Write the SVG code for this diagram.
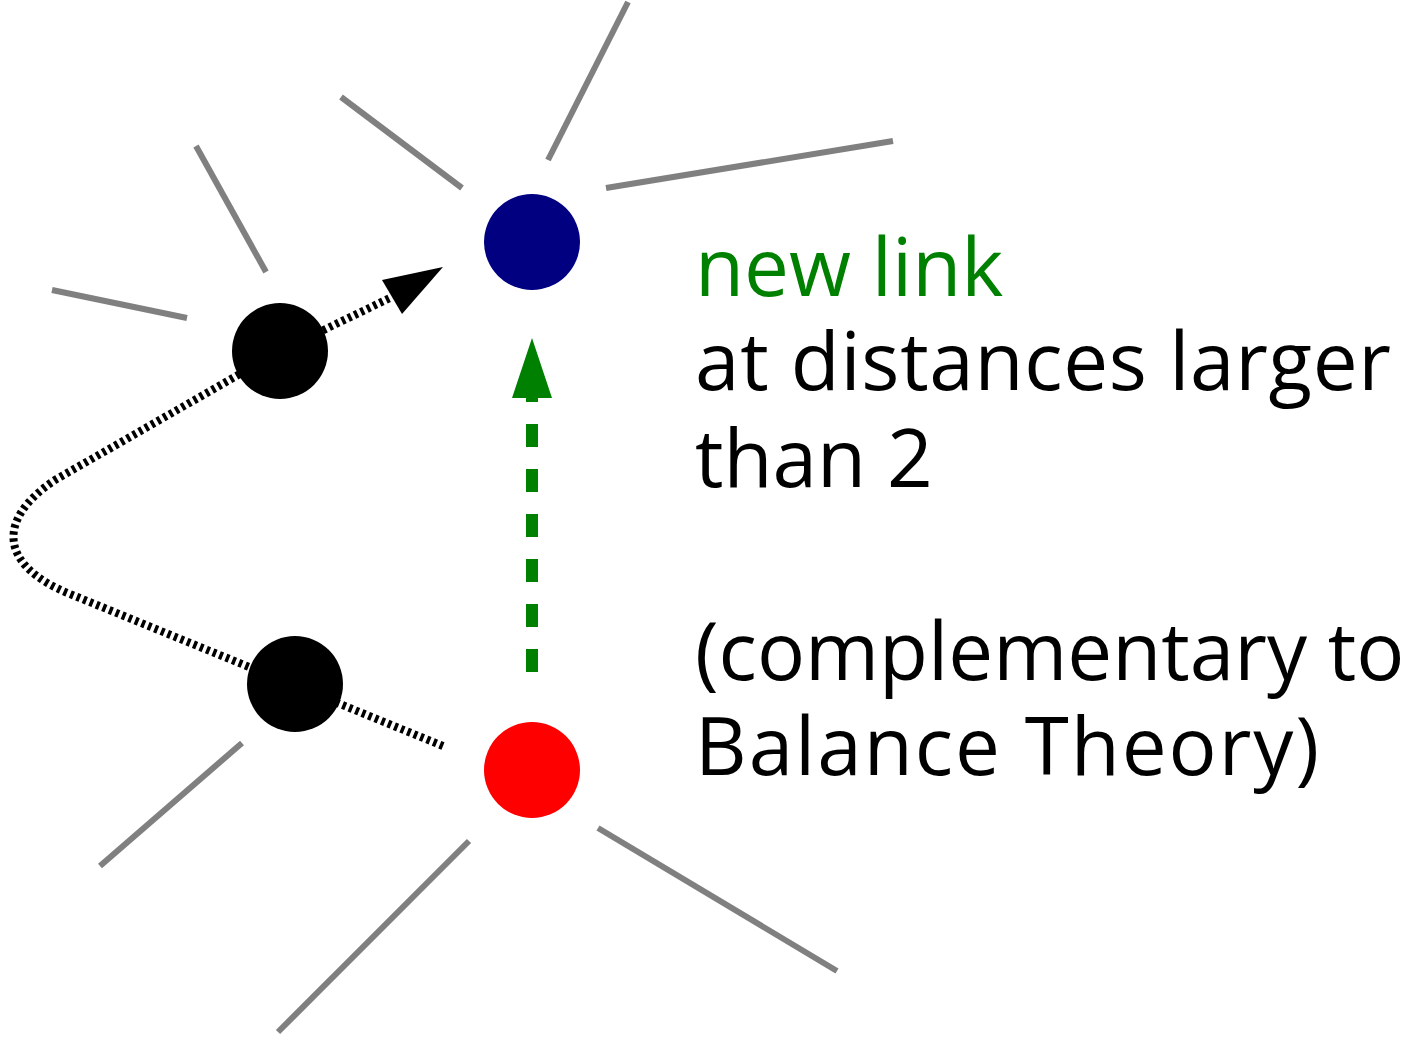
<svg xmlns="http://www.w3.org/2000/svg" width="1403" height="1039" viewBox="0 0 1403 1039">
<style>
.g{stroke:#808080;stroke-width:6;fill:none}
.t{font-family:"Open Sans","DejaVu Sans",sans-serif;font-size:80px;fill:#000}
</style>
<rect width="1403" height="1039" fill="#fff"/>
<g id="background-edges">
<line class="g" x1="548" y1="160" x2="628" y2="2"/>
<line class="g" x1="606" y1="188" x2="893" y2="141"/>
<line class="g" x1="341" y1="97" x2="462" y2="188"/>
<line class="g" x1="196" y1="146" x2="266" y2="272"/>
<line class="g" x1="52" y1="290" x2="187" y2="318"/>
<line class="g" x1="242" y1="743" x2="100" y2="866"/>
<line class="g" x1="469" y1="841" x2="278" y2="1032"/>
<line class="g" x1="598" y1="828" x2="837" y2="971"/>
</g>
<g id="connectors">
<path d="M443,746 L70,594 C0,566 -5,520 55,480 L280,351 L392,297" fill="none" stroke="#000" stroke-width="8" stroke-dasharray="3.5 3.5"/>
<polygon points="443,267 382,280 402,314" fill="#000"/>
<line x1="532" y1="672" x2="532" y2="398" stroke="#008000" stroke-width="12" stroke-dasharray="23 22"/>
<polygon points="532,338 512,398 552,398" fill="#008000"/>
</g>
<g id="node-blue"><circle cx="532" cy="242" r="48" fill="#000080"/></g>
<g id="node-red"><circle cx="532" cy="770" r="48" fill="#ff0000"/></g>
<g id="node-black-upper"><circle cx="280" cy="351" r="48" fill="#000"/></g>
<g id="node-black-lower"><circle cx="295" cy="684" r="48" fill="#000"/></g>
<g id="label">
<text class="t" x="695" y="296" style="fill:#008000">new link</text>
<text class="t" x="695" y="390" textLength="696">at distances larger</text>
<text class="t" x="695" y="487">than 2</text>
<text class="t" x="695" y="680">(complementary to</text>
<text class="t" x="695" y="775" textLength="624">Balance Theory)</text>
</g>
</svg>
